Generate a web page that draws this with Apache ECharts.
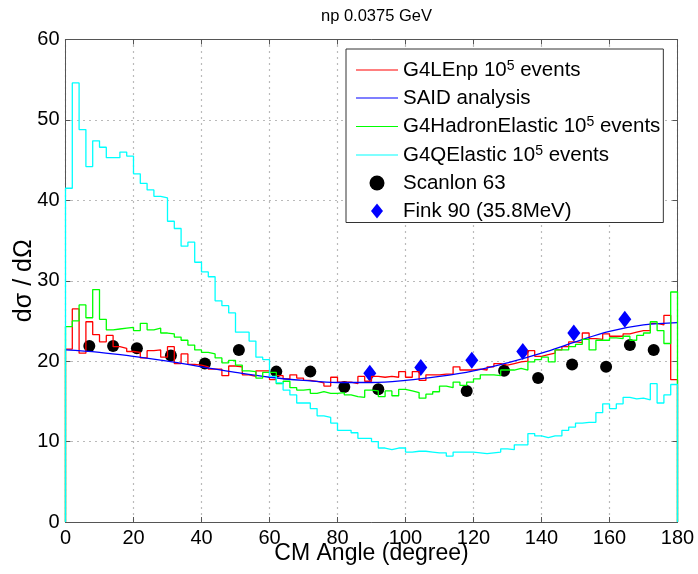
<!DOCTYPE html>
<html>
<head>
<meta charset="utf-8">
<script src="https://cdn.jsdelivr.net/npm/echarts@6/dist/echarts.min.js"></script>
<style>
html,body{margin:0;padding:0;background:#fff;}
#chart{width:698px;height:574px;}
</style>
</head>
<body>
<div id="chart"></div>
<script>
// ---- data ----
const titleText = 'np 0.0375 GeV';
const xAxisTitle = 'CM Angle (degree)';
const yAxisTitle = 'dσ / dΩ';
const xTicks = [0, 20, 40, 60, 80, 100, 120, 140, 160, 180];
const yTicks = [0, 10, 20, 30, 40, 50, 60];
const binWidthDeg = 2; // histogram bins of 2 degrees, 0..180

const seriesNames = ['G4LEnp', 'SAID', 'G4HadronElastic', 'G4QElastic', 'Scanlon', 'Fink'];
const legendMain = ['G4LEnp 10', 'SAID analysis', 'G4HadronElastic 10', 'G4QElastic 10', 'Scanlon 63', 'Fink 90 (35.8MeV)'];
const legendSup = ['5', '', '5', '5', '', ''];
const legendTail = [' events', '', ' events', ' events', '', ''];

const g4LEnp = [
  21.5, 26.5, 21.0, 24.9, 23.3, 22.4, 23.2, 21.8, 21.6, 21.2,
  21.1, 20.4, 21.3, 21.4, 20.5, 21.8, 19.7, 20.9, 19.6, 19.5,
  19.3, 19.0, 19.0, 18.2, 19.4, 19.3, 18.3, 18.1, 18.8, 18.8,
  17.7, 18.2, 17.8, 18.3, 17.9, 17.6, 17.5, 17.3, 16.9, 18.0,
  17.4, 17.4, 17.2, 18.1, 17.5, 18.1, 18.0, 18.1, 18.0, 18.7,
  18.0, 18.7, 17.6, 18.3, 18.3, 18.4, 18.4, 19.3, 18.9, 18.9,
  19.0, 18.9, 19.3, 19.7, 19.5, 19.7, 19.9, 20.0, 21.3, 20.6,
  20.8, 21.0, 21.4, 21.8, 22.4, 22.3, 23.5, 22.8, 22.7, 23.4,
  23.1, 23.1, 23.4, 23.6, 23.8, 23.8, 24.7, 24.5, 25.7, 17.7
];
const g4HadronElastic = [
  24.3, 25.0, 27.0, 25.4, 28.9, 25.2, 23.9, 24.0, 24.1, 24.2,
  23.8, 24.7, 23.9, 24.1, 23.5, 23.4, 23.0, 22.6, 22.0, 21.4,
  21.1, 20.9, 20.4, 19.8, 20.1, 19.5, 18.8, 18.7, 17.9, 18.6,
  18.6, 17.2, 17.5, 16.7, 16.4, 16.5, 16.0, 16.2, 16.0, 16.0,
  16.1, 15.8, 15.6, 15.5, 16.4, 16.3, 15.6, 16.3, 15.7, 16.5,
  16.3, 16.1, 15.4, 15.9, 16.2, 16.9, 16.7, 17.4, 17.0, 17.4,
  17.8, 18.3, 18.3, 18.2, 18.9, 18.9, 19.1, 18.9, 19.9, 20.2,
  20.5, 19.9, 21.4, 21.4, 21.8, 22.1, 22.7, 21.4, 22.6, 22.6,
  22.9, 22.8, 23.1, 22.6, 23.2, 23.5, 24.9, 23.8, 22.2, 28.6
];
const g4QElastic = [
  41.5, 54.6, 48.8, 44.2, 47.4, 46.6, 45.3, 45.3, 46.0, 45.5,
  43.3, 42.1, 41.3, 40.5, 40.3, 37.4, 36.5, 34.3, 34.8, 32.3,
  31.1, 30.5, 27.5, 26.9, 26.0, 23.6, 23.6, 22.5, 20.5, 20.2,
  18.1, 17.3, 16.4, 15.8, 14.8, 14.8, 14.1, 13.2, 13.0, 12.3,
  11.4, 11.4, 11.1, 10.4, 10.4, 10.0, 9.2, 9.0, 9.2, 9.2,
  8.7, 8.8, 8.8, 8.7, 8.6, 8.6, 8.2, 8.7, 8.7, 8.7,
  8.6, 8.5, 8.6, 8.7, 9.1, 9.0, 9.6, 9.6, 11.0, 10.7,
  10.5, 10.7, 10.7, 11.4, 11.8, 12.3, 12.4, 12.4, 13.6, 14.7,
  14.1, 14.7, 15.5, 15.3, 15.4, 15.2, 17.2, 14.8, 15.8, 17.1
];
const saidAngles = [0, 10, 20, 30, 40, 50, 60, 70, 80, 90, 100, 110, 120, 130, 140, 150, 160, 170, 180];
const saidValues = [21.4, 21.1, 20.6, 20.0, 19.3, 18.6, 18.0, 17.6, 17.35, 17.35, 17.6, 18.1, 18.8, 19.8, 21.0, 22.4, 23.7, 24.5, 24.8];
const scanlonAngles = [7, 14, 21, 31, 41, 51, 62, 72, 82, 92, 118, 129, 139, 149, 159, 166, 173];
const scanlonValues = [21.9, 21.9, 21.6, 20.7, 19.7, 21.4, 18.7, 18.7, 16.8, 16.5, 16.3, 18.8, 17.9, 19.6, 19.3, 22.0, 21.4];
const finkAngles = [89.5, 104.5, 119.5, 134.5, 149.5, 164.5];
const finkValues = [18.5, 19.2, 20.1, 21.2, 23.5, 25.2];

// ---- build step data (bin edges) ----
function stepData(vals) {
  const d = [[0, 0]];
  vals.forEach((v, i) => d.push([i * binWidthDeg, v]));
  const end = vals.length * binWidthDeg;
  d.push([end, vals[vals.length - 1]]);
  d.push([end, 0]);
  return d;
}
const zip = (a, b) => a.map((x, i) => [x, b[i]]);

const FONT = "'Liberation Sans', Arial, Helvetica, sans-serif";
const axisColor = '#555';
const gridLine = { show: true, lineStyle: { color: '#777', type: [1, 5], width: 1.2, opacity: 1 } };
const lineIcon = 'path://M0,0 L42,0 L42,1 L0,1 Z';
const diamondIcon = 'path://M6,0 L12,7.5 L6,15 L0,7.5 Z';
const legendColors = ['#ff0000', '#0000ff', '#00ff00', '#00ffff', '#000000', '#0000ff'];
const legendIcons = [lineIcon, lineIcon, lineIcon, lineIcon, 'circle', diamondIcon];

const chart = echarts.init(document.getElementById('chart'), null, { renderer: 'canvas' });

const lineSeries = (name, data, color) => ({
  name, type: 'line', data, step: 'end', symbol: 'none', showSymbol: false,
  lineStyle: { color, width: 1.3 }, itemStyle: { color }, silent: true, animation: false
});

chart.setOption({
  animation: false,
  backgroundColor: '#fff',
  title: {
    text: titleText, left: 371.5, top: 3, textAlign: 'center',
    textStyle: { fontFamily: FONT, fontSize: 16.5, fontWeight: 'normal', color: '#000' }
  },
  grid: { left: 65.5, right: 20.5, top: 39.5, bottom: 52, containLabel: false, outerBoundsMode: 'none' },
  legend: {
    orient: 'vertical', left: 346, top: 49,
    padding: [10, 3, 1, 10], itemGap: 7, itemWidth: 42, itemHeight: 15,
    backgroundColor: '#fff', borderColor: '#333', borderWidth: 1, borderRadius: 0,
    data: seriesNames.map((n, i) => ({ name: n, icon: legendIcons[i], itemStyle: { color: legendColors[i] } })),
    formatter: function (name) {
      const i = seriesNames.indexOf(name);
      let s = '{m|' + legendMain[i] + '}';
      if (legendSup[i]) s += '{s|' + legendSup[i] + '}';
      if (legendTail[i]) s += '{m|' + legendTail[i] + '}';
      return s;
    },
    textStyle: {
      fontFamily: FONT, fontSize: 20.5, color: '#000',
      rich: {
        m: { fontFamily: FONT, fontSize: 20.5, color: '#000', lineHeight: 22 },
        s: { fontFamily: FONT, fontSize: 14, color: '#000', lineHeight: 22, verticalAlign: 'top' }
      }
    }
  },
  xAxis: [
    {
      type: 'value', min: 0, max: 180, interval: 20, position: 'bottom',
      name: xAxisTitle, nameLocation: 'middle', nameGap: 20, nameMoveOverlap: false,
      nameTextStyle: { fontFamily: FONT, fontSize: 23, color: '#000' },
      axisLine: { show: true, onZero: false, lineStyle: { color: axisColor, width: 1 } },
      axisTick: { show: true, inside: true, length: 5, lineStyle: { color: axisColor } },
      axisLabel: { show: true, fontFamily: FONT, fontSize: 20, color: '#000', margin: 6,
        formatter: v => (xTicks.indexOf(v) >= 0 ? String(v) : '') },
      splitLine: gridLine
    },
    {
      type: 'value', min: 0, max: 180, interval: 20, position: 'top',
      axisLine: { show: true, onZero: false, lineStyle: { color: axisColor, width: 1 } },
      axisTick: { show: true, inside: true, length: 5, lineStyle: { color: axisColor } },
      axisLabel: { show: false }, splitLine: { show: false }
    }
  ],
  yAxis: [
    {
      type: 'value', min: 0, max: 60, interval: 10, position: 'left',
      name: yAxisTitle, nameLocation: 'middle', nameGap: 29, nameRotate: 90, nameMoveOverlap: false,
      nameTextStyle: { fontFamily: FONT, fontSize: 25, color: '#000' },
      axisLine: { show: true, onZero: false, lineStyle: { color: axisColor, width: 1 } },
      axisTick: { show: true, inside: true, length: 5, lineStyle: { color: axisColor } },
      axisLabel: { show: true, fontFamily: FONT, fontSize: 20, color: '#000', margin: 6,
        formatter: v => (yTicks.indexOf(v) >= 0 ? String(v) : '') },
      splitLine: gridLine
    },
    {
      type: 'value', min: 0, max: 60, interval: 10, position: 'right',
      axisLine: { show: true, onZero: false, lineStyle: { color: axisColor, width: 1 } },
      axisTick: { show: true, inside: true, length: 5, lineStyle: { color: axisColor } },
      axisLabel: { show: false }, splitLine: { show: false }
    }
  ],
  series: [
    lineSeries(seriesNames[0], stepData(g4LEnp), '#ff0000'),
    {
      name: seriesNames[1], type: 'line', data: zip(saidAngles, saidValues), smooth: 0.4,
      symbol: 'none', showSymbol: false, lineStyle: { color: '#0000ff', width: 1.3 },
      itemStyle: { color: '#0000ff' }, silent: true
    },
    lineSeries(seriesNames[2], stepData(g4HadronElastic), '#00ff00'),
    lineSeries(seriesNames[3], stepData(g4QElastic), '#00ffff'),
    {
      name: seriesNames[4], type: 'scatter', data: zip(scanlonAngles, scanlonValues),
      symbol: 'circle', symbolSize: 12, itemStyle: { color: '#000000', opacity: 1 }, silent: true
    },
    {
      name: seriesNames[5], type: 'scatter', data: zip(finkAngles, finkValues),
      symbol: 'diamond', symbolSize: [13, 17], itemStyle: { color: '#0000ff', opacity: 1 }, silent: true
    }
  ]
});
</script>
</body>
</html>
